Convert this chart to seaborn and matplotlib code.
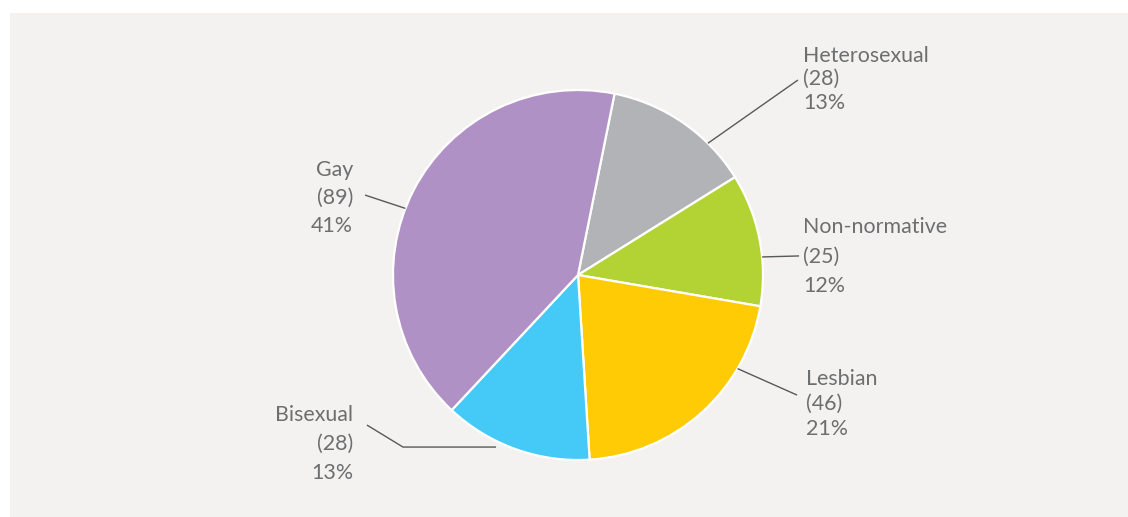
import numpy as np
import matplotlib
matplotlib.use("Agg")
import matplotlib.pyplot as plt
from matplotlib.patches import Rectangle
import seaborn as sns

# Respondents by sexual orientation, clockwise from the top
categories = ["Heterosexual", "Non-normative", "Lesbian", "Bisexual", "Gay"]
counts = [28, 25, 46, 28, 89]
colors = ["#b1b3b6", "#b3d335", "#ffcb05", "#45c9f6", "#b091c5"]

sns.set_theme(style="white")
plt.rcParams["font.family"] = ["Lato", "DejaVu Sans"]

W, H, DPI = 1128, 517, 100
fig = plt.figure(figsize=(W / DPI, H / DPI), dpi=DPI, facecolor="white")

# light panel behind the chart
fig.patches.append(Rectangle((10 / W, 0), 1 - 10 / W, 1 - 13 / H,
                             transform=fig.transFigure, facecolor="#f3f2f0",
                             edgecolor="none", zorder=-5))

ax = fig.add_axes([0, 0, 1, 1])
ax.set_zorder(1)
ax.patch.set_alpha(0)

R_PX = 185.0
CX, CY = 578.0, 275.0

wedges, _ = ax.pie(counts, colors=colors, startangle=78.6, counterclock=False,
                   radius=1.0, center=(0, 0),
                   wedgeprops=dict(edgecolor="white", linewidth=1.6))

ax.set_xlim(-CX / R_PX, (W - CX) / R_PX)
ax.set_ylim(-(H - CY) / R_PX, CY / R_PX)
ax.set_aspect("equal")
ax.axis("off")

total = sum(counts)
TEXT = "#6d6e70"
LINE = "#58595b"
FS = 15.4
CAP = 0.042  # half cap-height in axis units

# label layout: text x, first line y, line gap, alignment, leader path
layout = {
    "Heterosexual": dict(x=1.216, y=1.195, gap=0.127, ha="left",
                         angle=45.4, path=[(1.189, 1.054)]),
    "Non-normative": dict(x=1.216, y=0.270, gap=0.160, ha="left",
                          angle=5.6, path=[(1.195, 0.103)]),
    "Lesbian": dict(x=1.232, y=-0.551, gap=0.136, ha="left",
                    angle=-30.4, path=[(1.184, -0.649)]),
    "Bisexual": dict(x=-1.216, y=-0.746, gap=0.157, ha="right",
                     angle=-115.5, path=[(-0.946, -0.930), (-1.141, -0.811)]),
    "Gay": dict(x=-1.216, y=0.578, gap=0.151, ha="right",
                angle=158.9, path=[(-1.151, 0.432)]),
}

for name, n in zip(categories, counts):
    cfg = layout[name]
    lines = [name, f"({n})", f"{round(100 * n / total)}%"]
    for i, s in enumerate(lines):
        ax.text(cfg["x"], cfg["y"] - i * cfg["gap"] - CAP, s, ha=cfg["ha"],
                va="baseline", fontsize=FS, color=TEXT)
    a = np.deg2rad(cfg["angle"])
    if name == "Bisexual":
        start = (cfg["path"][0][0] + 0.503, cfg["path"][0][1])
    else:
        start = (np.cos(a), np.sin(a))
    pts = [start] + cfg["path"]
    xs, ys = zip(*pts)
    ax.plot(xs, ys, color=LINE, linewidth=1.0, solid_capstyle="butt", zorder=3)

fig.savefig("out.png", dpi=DPI, facecolor=fig.get_facecolor())
